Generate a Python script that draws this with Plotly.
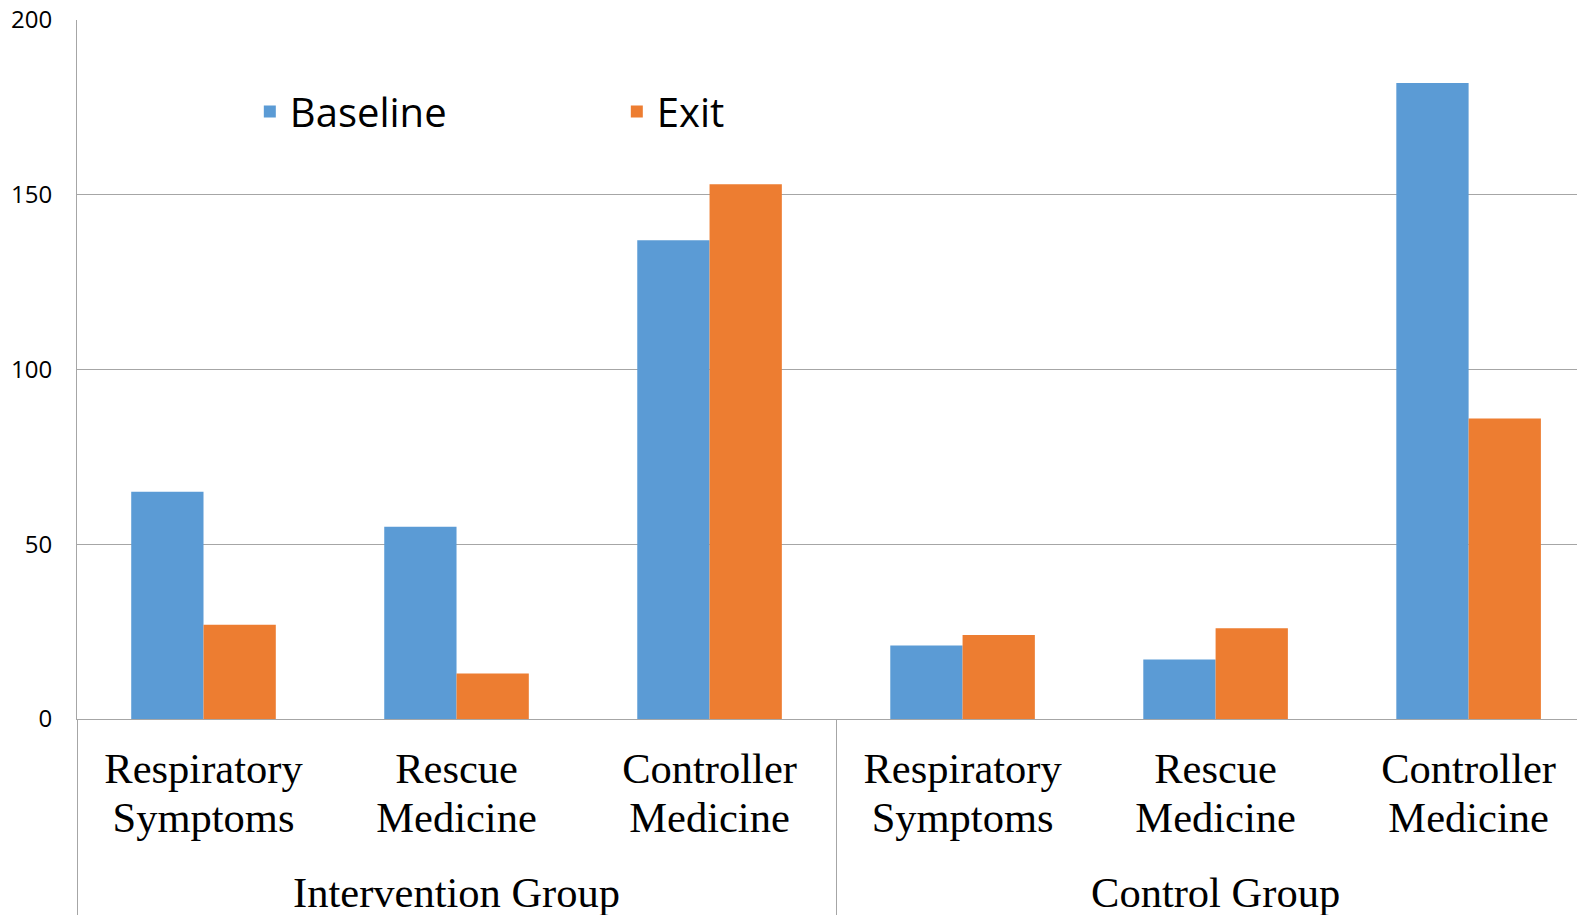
import plotly.graph_objects as go

groups = ["Intervention Group"] * 3 + ["Control Group"] * 3
cat_lines = [("Respiratory", "Symptoms"), ("Rescue", "Medicine"), ("Controller", "Medicine")] * 2
baseline = [65, 55, 137, 21, 17, 182]
exit_vals = [27, 13, 153, 24, 26, 86]
series_names = ["Baseline", "Exit"]
series_colors = ["#5B9BD5", "#ED7D31"]
y_ticks = [0, 50, 100, 150, 200]

LABEL_PX = 42.5
span = '<span style="font-size:%spx">%s</span>'
cat_labels = [span % (LABEL_PX, a) + "<br>" + span % (LABEL_PX, b) for a, b in cat_lines]
group_labels = ['<span style="font-size:%spx;baseline-shift:-43px">%s</span>' % (LABEL_PX, g) for g in groups]

fig = go.Figure()
for name, vals, color in zip(series_names, [baseline, exit_vals], series_colors):
    fig.add_trace(go.Bar(
        x=[group_labels, cat_labels], y=vals, name=name,
        marker=dict(color=color, line=dict(width=0)),
    ))

fig.update_layout(
    width=1577, height=907, autosize=False,
    margin=dict(l=69, r=0, t=12, b=196, pad=0),
    paper_bgcolor="white", plot_bgcolor="white",
    barmode="group", bargap=0.4286, bargroupgap=0,
    showlegend=True,
    legend=dict(
        orientation="h", x=0.1146, y=0.869, xanchor="left", yanchor="middle",
        font=dict(family="Open Sans", size=40, color="black"),
        entrywidth=322, entrywidthmode="pixels",
        bgcolor="rgba(0,0,0,0)",
    ),
    font=dict(family="Liberation Serif", color="black"),
)
fig.update_xaxes(
    type="multicategory", range=[-0.5, 5.46], automargin=False,
    showline=True, linecolor="#A6A6A6", linewidth=1,
    ticks="", showgrid=False,
    tickfont=dict(family="Liberation Serif", size=38, color="black"),
    ticklabelstandoff=17,
    showdividers=True, dividercolor="#A6A6A6", dividerwidth=1,
)
fig.update_yaxes(
    range=[0, 200], tickvals=y_ticks, ticktext=[str(v) for v in y_ticks],
    automargin=False,
    showgrid=True, gridcolor="#A6A6A6", gridwidth=1,
    showline=True, linecolor="#A6A6A6", linewidth=1,
    zeroline=False, ticks="", ticklabeloverflow="allow",
    tickfont=dict(family="Open Sans", size=24, color="black"),
    ticklabelstandoff=19,
)
fig.write_html("out.html")
